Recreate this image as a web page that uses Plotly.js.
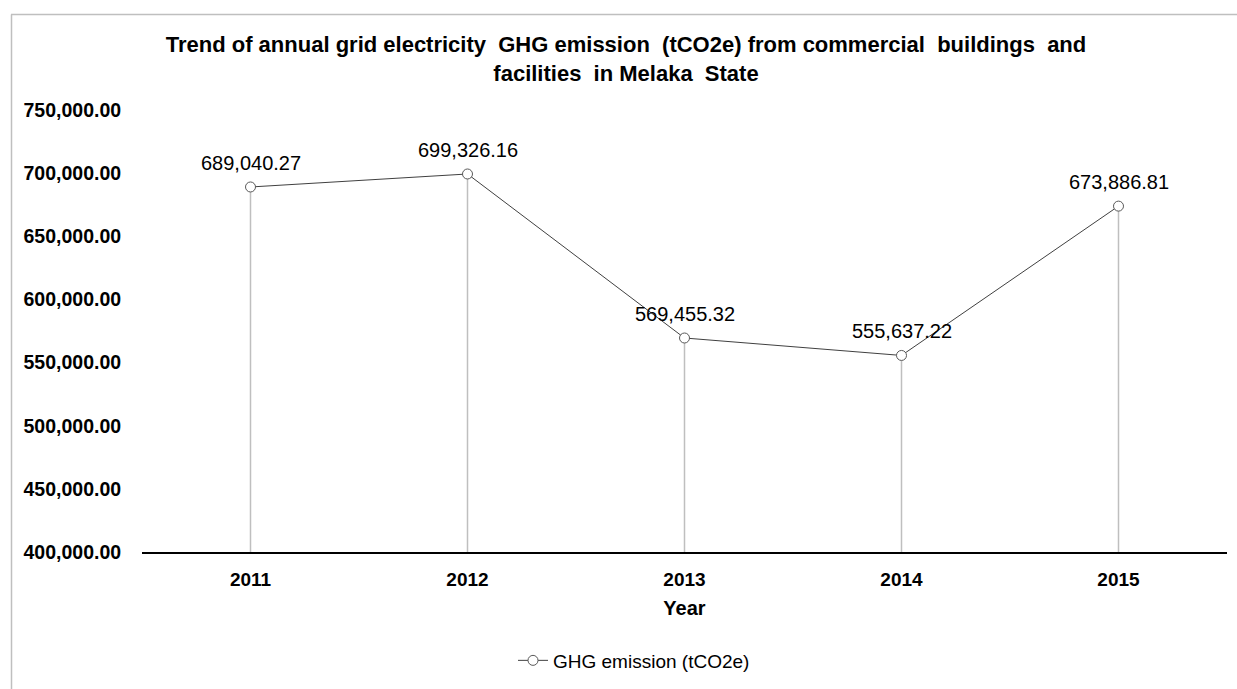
<!DOCTYPE html>
<html>
<head>
<meta charset="utf-8">
<script src="https://cdn.plot.ly/plotly-3.0.1.min.js"></script>
<style>html,body{margin:0;padding:0;background:#fff;}#chart{width:1237px;height:689px;}</style>
</head>
<body>
<div id="chart"></div>
<script>
var years = ['2011', '2012', '2013', '2014', '2015'];
var emissions = [689040.27, 699326.16, 569455.32, 555637.22, 673886.81];
var labels = ['689,040.27', '699,326.16', '569,455.32', '555,637.22', '673,886.81'];
var seriesName = 'GHG emission (tCO2e)';
var yMin = 400000, yMax = 750000;

var L = 142, R = 10, T = 110, B = 135, W = 1237, H = 689;
var pw = W - L - R, ph = H - T - B;
function px2x(p){ return (p - L) / pw; }
function py2y(p){ return (H - B - p) / ph; }

var FONT = 'Liberation Sans, Arial, sans-serif';
var drop = emissions.map(function(v){ return v - yMin; });

var trace = {
  type: 'scatter',
  mode: 'lines+markers',
  x: years,
  y: emissions,
  name: seriesName,
  line: {color: '#404040', width: 1},
  marker: {symbol: 'circle', size: 10, color: '#ffffff', line: {color: '#595959', width: 1}},
  error_y: {type: 'data', symmetric: false, array: [0,0,0,0,0], arrayminus: drop, width: 0, thickness: 1.5, color: '#bfbfbf'},
  cliponaxis: false
};

// category index i corresponds to years[i] on the category x axis
var annotations = years.map(function(yr, i){
  return {
    x: i, y: emissions[i], xref: 'x', yref: 'y',
    text: labels[i], showarrow: false, yshift: 24,
    xanchor: 'center', yanchor: 'middle',
    font: {family: FONT, size: 20, color: '#000'}
  };
});

var layout = {
  width: W, height: H,
  margin: {l: L, r: R, t: T, b: B},
  paper_bgcolor: '#fff', plot_bgcolor: '#fff',
  font: {family: FONT, color: '#000'},
  title: {
    text: 'Trend of annual grid electricity  GHG emission  (tCO2e) from commercial  buildings  and<br>facilities  in Melaka  State',
    font: {family: FONT, size: 22, weight: 'bold', color: '#000'},
    x: 626 / W, xanchor: 'center',
    y: 1 - 52 / H, yanchor: 'middle'
  },
  showlegend: true,
  legend: {
    orientation: 'h', x: px2x(634), xanchor: 'center', y: py2y(663), yanchor: 'middle',
    font: {family: FONT, size: 19, color: '#000'}
  },
  annotations: annotations,
  xaxis: {
    type: 'category', range: [-0.5, 4.5],
    showline: true, linecolor: '#000', linewidth: 2,
    showgrid: false, zeroline: false,
    ticks: 'outside', ticklen: 9, tickcolor: 'rgba(0,0,0,0)',
    tickfont: {family: FONT, size: 19, weight: 'bold', color: '#000'},
    title: {text: 'Year', standoff: 12, font: {family: FONT, size: 20, weight: 'bold', color: '#000'}},
    fixedrange: true
  },
  yaxis: {
    range: [yMin, yMax], dtick: 50000, tick0: 0,
    tickformat: ',.2f',
    showline: false, showgrid: false, zeroline: false,
    ticks: 'outside', ticklen: 16, tickcolor: 'rgba(0,0,0,0)',
    tickfont: {family: FONT, size: 19.5, weight: 'bold', color: '#000'},
    fixedrange: true
  },
  shapes: [
    {type: 'line', xref: 'paper', yref: 'paper', x0: px2x(11.5), x1: px2x(11.5), y0: py2y(14), y1: py2y(700), line: {color: '#bfbfbf', width: 1.5}},
    {type: 'line', xref: 'paper', yref: 'paper', x0: px2x(11), x1: px2x(1250), y0: py2y(14), y1: py2y(14), line: {color: '#bfbfbf', width: 1.5}}
  ]
};

Plotly.newPlot('chart', [trace], layout, {displayModeBar: false, staticPlot: true});
</script>
</body>
</html>
